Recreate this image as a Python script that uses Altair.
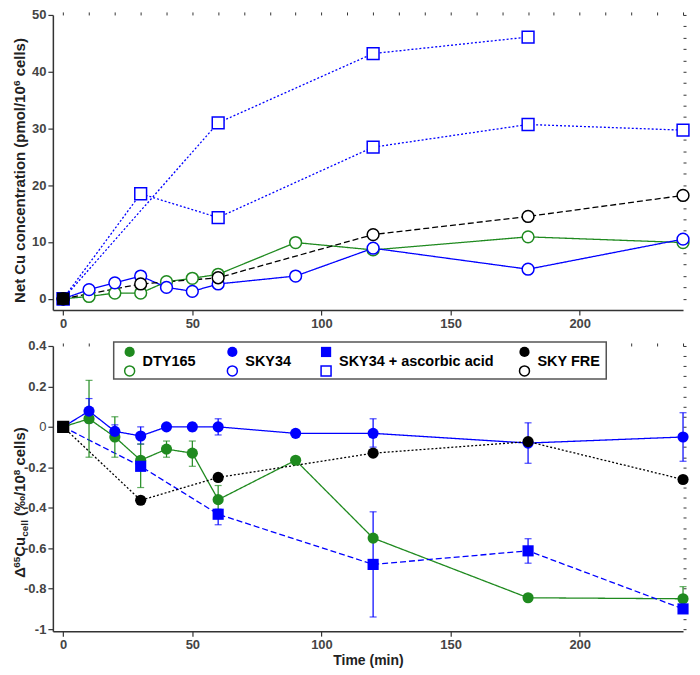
import altair as alt
import pandas as pd

FONT = "Liberation Sans"

SERIES = ["DTY165", "SKY34", "SKY34 + ascorbic acid", "SKY FRE"]
COLORS = ["#1f8a1f", "#0000ff", "#0000ff", "#000000"]
SHAPES = ["circle", "circle", "square", "circle"]
DASH_TOP = [[1, 0], [1, 0], [2, 2], [6, 3]]
DASH_BOT = [[1, 0], [1, 0], [6, 3], [2, 2]]

# ---------------- top panel: net Cu concentration (open symbols) -------------
t_top_strain = [0, 10, 20, 30, 40, 50, 60, 90, 120, 180, 240]
cu_dty165 = [0, 0.4, 1.0, 1.0, 3.0, 3.6, 4.3, 9.9, 8.6, 10.9, 9.9]
cu_sky34 = [0, 1.6, 2.8, 4.0, 2.0, 1.3, 2.6, 4.0, 8.9, 5.2, 10.5]
t_aa_run1 = [0, 30, 60, 120, 180, 240]
cu_aa_run1 = [0, 18.5, 14.3, 26.7, 30.7, 29.7]
t_aa_run2 = [0, 60, 120, 180]
cu_aa_run2 = [0, 31.0, 43.2, 46.1]
t_fre_top = [0, 30, 60, 120, 180, 240]
cu_fre = [0, 2.6, 3.7, 11.3, 14.5, 18.2]

# ---------------- bottom panel: delta65Cu (filled symbols) -------------------
t_strain = [0, 10, 20, 30, 40, 50, 60, 90, 120, 180, 240]
d_dty165 = [0, 0.04, -0.05, -0.165, -0.11, -0.13, -0.36, -0.165, -0.55, -0.845, -0.85]
lo_dty165 = [None, -0.15, -0.15, -0.30, -0.15, -0.195, -0.43, None, None, None, -0.91]
hi_dty165 = [None, 0.23, 0.05, -0.085, -0.07, -0.07, -0.29, None, None, None, -0.79]
d_sky34 = [0, 0.078, -0.022, -0.045, 0, 0, 0, -0.032, -0.032, -0.08, -0.05]
lo_sky34 = [None, 0.02, -0.05, -0.085, None, -0.02, -0.04, None, -0.10, -0.18, -0.17]
hi_sky34 = [None, 0.14, 0.01, 0.0, None, 0.02, 0.04, None, 0.04, 0.02, 0.07]
t_aa = [0, 30, 60, 120, 180, 240]
d_aa = [0, -0.195, -0.432, -0.68, -0.613, -0.90]
lo_aa = [None, None, -0.484, -0.94, -0.674, None]
hi_aa = [None, None, -0.407, -0.42, -0.553, None]
t_fre = [0, 30, 60, 120, 180, 240]
d_fre = [0, -0.363, -0.25, -0.13, -0.073, -0.26]

x_major_ticks = [0, 50, 100, 150, 200]
x_minor_ticks = list(range(0, 241, 10))
y_top_major = [0, 10, 20, 30, 40, 50]
y_top_minor = list(range(0, 51, 2))
y_bot_major = [-1.0, -0.8, -0.6, -0.4, -0.2, 0.0, 0.2, 0.4]
y_bot_minor = [round(-1 + 0.05 * i, 2) for i in range(29)]

# ---------------- data frames ----------------
top_rows = []
for s, run, ts, vs in [
    ("DTY165", "a", t_top_strain, cu_dty165),
    ("SKY34", "b", t_top_strain, cu_sky34),
    ("SKY34 + ascorbic acid", "c1", t_aa_run1, cu_aa_run1),
    ("SKY34 + ascorbic acid", "c2", t_aa_run2, cu_aa_run2),
    ("SKY FRE", "d", t_fre_top, cu_fre),
]:
    for t, v in zip(ts, vs):
        top_rows.append(dict(t=t, v=v, series=s, run=run))
top_df = pd.DataFrame(top_rows)

bot_rows = []
for s, ts, vs, los, his in [
    ("DTY165", t_strain, d_dty165, lo_dty165, hi_dty165),
    ("SKY34", t_strain, d_sky34, lo_sky34, hi_sky34),
    ("SKY34 + ascorbic acid", t_aa, d_aa, lo_aa, hi_aa),
    ("SKY FRE", t_fre, d_fre, [None] * len(t_fre), [None] * len(t_fre)),
]:
    for t, v, lo, hi in zip(ts, vs, los, his):
        bot_rows.append(dict(t=t, v=v, series=s, lo=lo, hi=hi))
bot_df = pd.DataFrame(bot_rows)

one = pd.DataFrame({"k": [0]})

# ---------------- layout constants ----------------
W = 632
H1 = 296
H2 = 286

xs = alt.Scale(domain=[-4, 240], nice=False, zero=False)
ys_top = alt.Scale(domain=[-2, 50], nice=False, zero=False)
ys_bot = alt.Scale(domain=[-1.01, 0.4], nice=False, zero=False)

color_scale = alt.Scale(domain=SERIES, range=COLORS)
shape_scale = alt.Scale(domain=SERIES, range=SHAPES)

axis_common = dict(grid=False, domainColor="#333", domainWidth=1.5, tickColor="#333",
                   tickWidth=1.2, labelFont=FONT, labelFontSize=13,
                   labelColor="#444")


def major_x(title=None):
    return alt.Axis(values=x_major_ticks, tickSize=5, labelPadding=2, title=title,
                    titleFont=FONT, titleFontSize=14, titleFontWeight="bold",
                    titleColor="#222", titlePadding=2, labelFontWeight="bold",
                    **axis_common)


def minor_axis(vals):
    return alt.Axis(values=vals, tickSize=3, labels=False, domain=False, title=None,
                    grid=False, tickColor="#333", tickWidth=1)


# width table (Arial/Liberation Sans Bold, em units) for the rotated titles
CW = {' ': .278, '(': .333, ')': .333, '/': .278, '\u2030': 1.0, '\u0394': .67,
      'C': .722, 'N': .722, 'a': .556, 'c': .556, 'e': .556, 'i': .278, 'l': .278,
      'm': .889, 'n': .611, 'o': .611, 'p': .611, 'r': .389, 's': .556, 't': .333,
      'u': .611}


def text_w(s, fs):
    return sum(CW.get(ch, .556) for ch in s) * fs


def rotated_title(segments, x_base, y_center):
    total = sum(text_w(s, fs) + gap * 15 for s, fs, dx, gap in segments)
    y = y_center + total / 2
    layers = []
    for s, fs, dx, gap in segments:
        y -= gap * 15
        layers.append(
            alt.Chart(one).mark_text(angle=270, align="left", baseline="alphabetic",
                                     font=FONT, fontSize=fs, fontWeight="bold",
                                     color="#222", text=s)
            .encode(x=alt.value(x_base + dx), y=alt.value(y))
        )
        y -= text_w(s, fs)
    return layers


TITLE_X = -28

# ---------------- top chart ----------------
tbase = alt.Chart(top_df)
X_none = alt.X("t:Q", scale=xs, axis=None)
Yt_none = alt.Y("v:Q", scale=ys_top, axis=None)

top_axes_major = tbase.mark_point(opacity=0).encode(
    x=alt.X("t:Q", scale=xs, axis=major_x()),
    y=alt.Y("v:Q", scale=ys_top,
            axis=alt.Axis(values=y_top_major, tickSize=5, labelPadding=2, title=None,
                          labelFontWeight="bold", **axis_common)),
)
top_axes_minor = tbase.mark_point(opacity=0).encode(
    x=alt.X("t:Q", scale=xs, axis=minor_axis(x_minor_ticks)),
    y=alt.Y("v:Q", scale=ys_top, axis=minor_axis(y_top_minor)),
)
top_lines = tbase.mark_line(strokeWidth=1.3).encode(
    x=X_none, y=Yt_none,
    color=alt.Color("series:N", scale=color_scale, legend=None),
    strokeDash=alt.StrokeDash("series:N", scale=alt.Scale(domain=SERIES, range=DASH_TOP), legend=None),
    detail="run:N",
    order="t:Q",
)
top_points = tbase.mark_point(filled=False, fill="white", fillOpacity=1, opacity=1,
                              size=140, strokeWidth=1.5).encode(
    x=X_none, y=Yt_none,
    stroke=alt.Stroke("series:N", scale=color_scale, legend=None),
    shape=alt.Shape("series:N", scale=shape_scale, legend=None),
)
top_origin = tbase.transform_filter("datum.t == 0 && datum.series == 'SKY FRE'").mark_square(
    size=150, color="black", opacity=1).encode(x=X_none, y=Yt_none)

top_title = rotated_title(
    [("Net Cu concentration (pmol/10", 15, 0, 0), ("6", 10, -5, 0), ("cells)", 15, 0, 0.278)],
    TITLE_X, 156)

top = alt.layer(top_axes_major, top_axes_minor, top_lines, top_points, top_origin,
                *top_title).resolve_axis(x="independent", y="independent").properties(
    width=W, height=H1)

# ---------------- bottom chart ----------------
bbase = alt.Chart(bot_df)
Yb_none = alt.Y("v:Q", scale=ys_bot, axis=None)

bot_label_expr = ("datum.value == 0 ? '0' : (datum.value == -1 ? '-1' : "
                  "(datum.value < 0 ? '-' : '') + format(abs(datum.value), '.1f'))")

bot_axes_major = bbase.mark_point(opacity=0).encode(
    x=alt.X("t:Q", scale=xs, axis=major_x("Time (min)")),
    y=alt.Y("v:Q", scale=ys_bot,
            axis=alt.Axis(values=y_bot_major, tickSize=5, labelPadding=2, title=None,
                          labelExpr=bot_label_expr,
                          labelFontWeight={"condition": {"test": "datum.value == 0", "value": "normal"},
                                           "value": "bold"},
                          **axis_common)),
)
bot_axes_minor = bbase.mark_point(opacity=0).encode(
    x=alt.X("t:Q", scale=xs, axis=minor_axis(x_minor_ticks)),
    y=alt.Y("v:Q", scale=ys_bot, axis=minor_axis(y_bot_minor)),
)
bot_lines = bbase.mark_line(strokeWidth=1.3).encode(
    x=X_none, y=Yb_none,
    color=alt.Color("series:N", scale=color_scale, legend=None),
    strokeDash=alt.StrokeDash("series:N", scale=alt.Scale(domain=SERIES, range=DASH_BOT), legend=None),
    order="t:Q",
)
err = bbase.transform_filter("datum.lo != null")
err_rules = err.mark_rule(strokeWidth=1.2).encode(
    x=X_none, y=alt.Y("lo:Q", scale=ys_bot, axis=None), y2="hi:Q",
    color=alt.Color("series:N", scale=color_scale, legend=None))
err_lo = err.mark_tick(orient="horizontal", size=7, thickness=1.2).encode(
    x=X_none, y=alt.Y("lo:Q", scale=ys_bot, axis=None),
    color=alt.Color("series:N", scale=color_scale, legend=None))
err_hi = err.mark_tick(orient="horizontal", size=7, thickness=1.2).encode(
    x=X_none, y=alt.Y("hi:Q", scale=ys_bot, axis=None),
    color=alt.Color("series:N", scale=color_scale, legend=None))

bot_points = bbase.mark_point(filled=True, size=125, opacity=1).encode(
    x=X_none, y=Yb_none,
    fill=alt.Fill("series:N", scale=color_scale, legend=None),
    shape=alt.Shape("series:N", scale=shape_scale, legend=None),
)
bot_origin = bbase.transform_filter("datum.t == 0 && datum.series == 'SKY FRE'").mark_square(
    size=150, color="black", opacity=1).encode(x=X_none, y=Yb_none)

# ---- legend (filled symbol above open symbol, label between) ----
LEG_SYM_X = [77, 180, 274, 473]   # legend entry positions (px from plot left)
LEG_Y_FILLED, LEG_Y_OPEN, LEG_Y_LABEL = 6, 25, 16

legend_layers = [
    alt.Chart(one).mark_rect(fill="white", stroke="#555", strokeWidth=1.5).encode(
        x=alt.value(61), x2=alt.value(555), y=alt.value(-4), y2=alt.value(33))
]
for name, col, shp, lx in zip(SERIES, COLORS, SHAPES, LEG_SYM_X):
    legend_layers.append(
        alt.Chart(one).mark_point(shape=shp, filled=True, color=col, size=105, opacity=1)
        .encode(x=alt.value(lx), y=alt.value(LEG_Y_FILLED)))
    legend_layers.append(
        alt.Chart(one).mark_point(shape=shp, filled=False, stroke=col, fill="white",
                                  fillOpacity=1, opacity=1, strokeWidth=1.5, size=100)
        .encode(x=alt.value(lx), y=alt.value(LEG_Y_OPEN)))
    legend_layers.append(
        alt.Chart(one).mark_text(align="left", baseline="middle", font=FONT, fontSize=14.5,
                                 fontWeight="bold", color="black", text=name)
        .encode(x=alt.value(lx + 13), y=alt.value(LEG_Y_LABEL)))

bot_title = rotated_title(
    [("\u0394", 15, 0, 0), ("65", 10, -5, 0), ("Cu", 15, 0, 0), ("cell", 10, 3.5, 0),
     ("(\u2030/10", 15, 0, 0.278), ("8", 10, -5, 0), ("cells)", 15, 0, 0.278)],
    TITLE_X, 157)

bottom = alt.layer(legend_layers[0], bot_axes_major, bot_axes_minor, bot_lines, err_rules,
                   err_lo, err_hi, bot_points, bot_origin, *legend_layers[1:],
                   *bot_title).resolve_axis(x="independent", y="independent").properties(
    width=W, height=H2)

chart = alt.vconcat(top, bottom, spacing=10).resolve_scale(
    strokeDash="independent").properties(
    padding={"left": 4, "top": 0, "right": 0, "bottom": 0}, background="white"
).configure_view(stroke=None)

chart.save("out.html", embed_options={"renderer": "svg", "actions": False})
